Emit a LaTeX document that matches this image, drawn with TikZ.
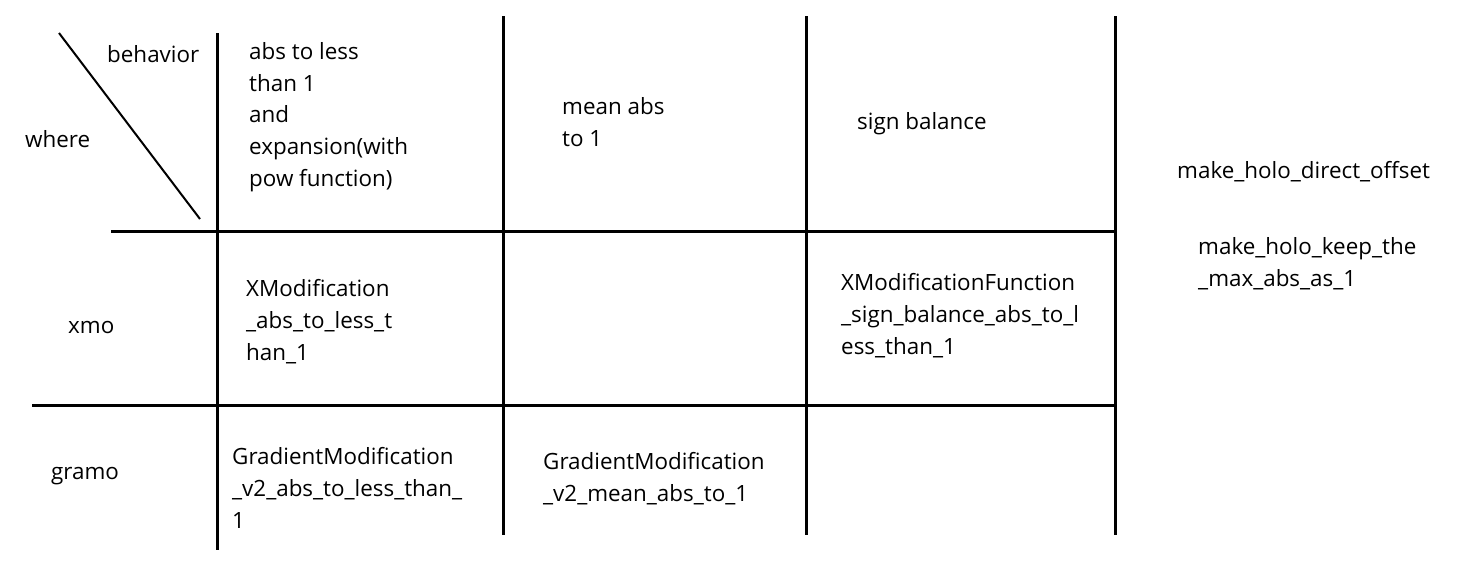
\documentclass[tikz,border=0pt]{standalone}
\usepackage{fontspec}
\setmainfont{Open Sans}

\begin{document}
\begin{tikzpicture}[x=1pt,y=-1pt,
    grid/.style={line width=3pt},
    cell/.style={anchor=base west, inner sep=0pt, align=left,
      font=\fontsize{22.4}{31.6}\selectfont}]
        \useasboundingbox (0,0) rectangle (1477,573);

        % Lineas verticales de la tabla
        \draw[grid] (217,33) -- (217,550);
        \draw[grid] (503,16) -- (503,535);
        \draw[grid] (806,16) -- (806,535);
        \draw[grid] (1115,16) -- (1115,535);

        % Lineas horizontales
        \draw[grid] (111,231) -- (1117,231);
        \draw[grid] (32,405) -- (1117,405);

        % Diagonal de la esquina
        \draw[line width=2pt] (59,33) -- (200,219);

        % Encabezados de la esquina
        \node[cell] (behavior) at (107,62) {behavior};
        \node[cell] (where) at (25,147) {where};

        % Fila de comportamientos (el ancla es la ultima linea)
        \node[cell] (lessone) at (249,186) {abs to less\\than 1\\and\\expansion(with\\pow function)};
        \node[cell] (meanabs) at (562,146) {mean abs\\to 1};
        \node[cell] (signbal) at (857,129) {sign balance};

        % Fila xmo
        \node[cell] (xmo) at (68,333) {xmo};
        \node[cell] (xmoless) at (246,360) {XModification\\\_abs\_to\_less\_t\\han\_1};
        \node[cell] (xmosign) at (841,354) {XModificationFunction\\\_sign\_balance\_abs\_to\_l\\ess\_than\_1};

        % Fila gramo
        \node[cell] (gramo) at (51,479) {gramo};
        \node[cell] (graless) at (232,528) {GradientModification\\\_v2\_abs\_to\_less\_than\_\\1};
        \node[cell] (grameanabs) at (543,501) {GradientModification\\\_v2\_mean\_abs\_to\_1};

        % Funciones aparte
        \node[cell] (direct) at (1177,178) {make\_holo\_direct\_offset};
        \node[cell] (keepmax) at (1198,286) {make\_holo\_keep\_the\\\_max\_abs\_as\_1};
    \end{tikzpicture}
\end{document}
